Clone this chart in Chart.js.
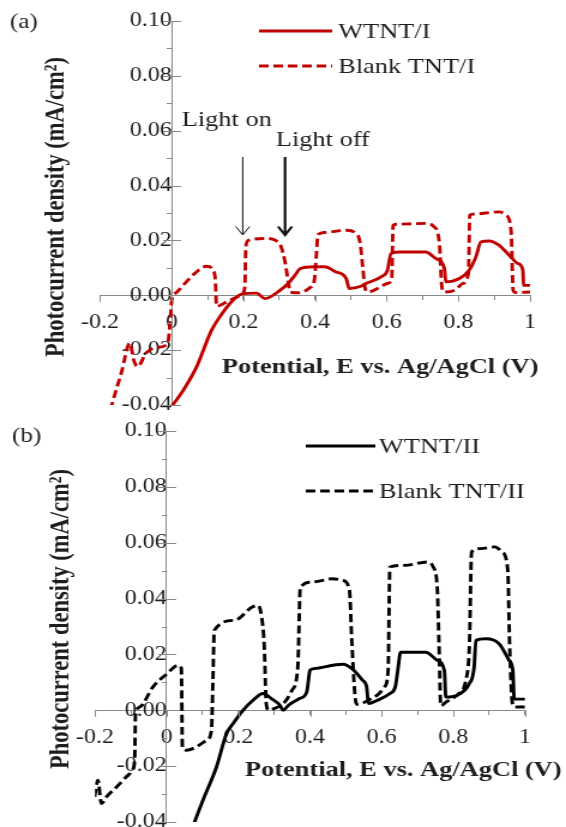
<!DOCTYPE html>
<html><head><meta charset="utf-8">
<script src="https://cdn.jsdelivr.net/npm/chart.js@4.4.1/dist/chart.umd.min.js"></script>
<style>
html,body{margin:0;padding:0;background:#fff;overflow:hidden;width:566px;height:827px}
.wrap{position:absolute;left:0;width:472px;overflow:hidden;transform-origin:0 0;transform:scaleX(1.19915)}
canvas{display:block}
</style></head><body>
<div class="wrap" style="top:0;height:413px"><canvas id="ca" width="472" height="440"></canvas></div>
<div class="wrap" style="top:413px;height:414px"><canvas id="cb" width="472" height="440"></canvas></div>
<script>
// ---------- data (potential V, current mA/cm2) ----------
const seriesNamesA = ['WTNT/I', 'Blank TNT/I'];
const seriesNamesB = ['WTNT/II', 'Blank TNT/II'];

const wtntI_E = [0, 0.032, 0.069, 0.111, 0.134, 0.171, 0.199, 0.237, 0.26, 0.302, 0.325, 0.345, 0.358, 0.396, 0.427, 0.457, 0.487, 0.495, 0.528, 0.542, 0.584, 0.602, 0.612, 0.635, 0.709, 0.737, 0.761, 0.765, 0.803, 0.83, 0.849, 0.863, 0.886, 0.914, 0.942, 0.966, 0.98, 0.982, 1.0];
const wtntI_J = [-0.0405, -0.0347, -0.0262, -0.0128, -0.0079, -0.0018, 0.0006, 0.0008, -0.0012, 0.0018, 0.0043, 0.0075, 0.0097, 0.0104, 0.0104, 0.0086, 0.0061, 0.0025, 0.0033, 0.0043, 0.0067, 0.0091, 0.0152, 0.0158, 0.0158, 0.0134, 0.0097, 0.0049, 0.0061, 0.0091, 0.014, 0.0195, 0.0198, 0.0182, 0.0146, 0.0116, 0.0091, 0.0036, 0.0036];

const blankI_E = [-0.18, -0.165, -0.14, -0.117, -0.105, -0.095, -0.071, -0.039, -0.011, -0.004, 0.0, 0.013, 0.041, 0.069, 0.097, 0.116, 0.122, 0.125, 0.162, 0.194, 0.204, 0.207, 0.214, 0.265, 0.29, 0.305, 0.317, 0.326, 0.331, 0.356, 0.386, 0.398, 0.404, 0.408, 0.427, 0.487, 0.513, 0.526, 0.533, 0.54, 0.548, 0.579, 0.602, 0.614, 0.618, 0.626, 0.709, 0.733, 0.747, 0.754, 0.76, 0.793, 0.812, 0.828, 0.832, 0.84, 0.914, 0.933, 0.947, 0.953, 0.96, 1.0];
const blankI_J = [-0.046, -0.039, -0.028, -0.0175, -0.024, -0.026, -0.021, -0.019, -0.0175, -0.009, -0.002, 0.001, 0.0049, 0.0085, 0.0106, 0.0091, 0.005, -0.0040, -0.0018, 0.0, 0.003, 0.0178, 0.020, 0.0207, 0.020, 0.0178, 0.0117, 0.0043, 0.0012, 0.0009, 0.0028, 0.0055, 0.0153, 0.0221, 0.0229, 0.0237, 0.0227, 0.019, 0.0104, 0.0025, 0.0012, 0.0028, 0.0043, 0.006, 0.0255, 0.0259, 0.0262, 0.0249, 0.0189, 0.003, 0.0012, 0.0021, 0.0043, 0.008, 0.0292, 0.0296, 0.0304, 0.0292, 0.0237, 0.0018, 0.001, 0.0012];

const wtntII_E = [0.07, 0.078, 0.101, 0.139, 0.167, 0.185, 0.213, 0.241, 0.269, 0.292, 0.316, 0.325, 0.34, 0.371, 0.391, 0.4, 0.411, 0.492, 0.517, 0.547, 0.558, 0.563, 0.588, 0.623, 0.638, 0.645, 0.653, 0.723, 0.756, 0.775, 0.779, 0.817, 0.844, 0.858, 0.863, 0.891, 0.928, 0.956, 0.966, 0.97, 1.0];
const wtntII_J = [-0.043, -0.04, -0.0323, -0.0203, -0.0084, -0.0048, 0.0, 0.0036, 0.006, 0.0042, 0.0018, 0.0, 0.0018, 0.0042, 0.0066, 0.0143, 0.0149, 0.0165, 0.0149, 0.0107, 0.0084, 0.0024, 0.0036, 0.006, 0.0084, 0.0143, 0.0208, 0.0208, 0.0178, 0.0142, 0.0047, 0.0058, 0.0094, 0.0154, 0.025, 0.0256, 0.0238, 0.0178, 0.0142, 0.004, 0.004];

const blankII_E = [-0.201, -0.192, -0.182, -0.168, -0.14, -0.113, -0.094, -0.089, -0.087, -0.075, -0.038, 0.001, 0.032, 0.041, 0.044, 0.055, 0.083, 0.111, 0.125, 0.129, 0.133, 0.189, 0.239, 0.255, 0.265, 0.272, 0.278, 0.285, 0.30, 0.33, 0.35, 0.366, 0.373, 0.411, 0.462, 0.492, 0.51, 0.517, 0.527, 0.532, 0.563, 0.593, 0.608, 0.618, 0.623, 0.664, 0.729, 0.744, 0.755, 0.76, 0.765, 0.78, 0.815, 0.835, 0.845, 0.851, 0.876, 0.916, 0.936, 0.952, 0.957, 0.965, 0.972, 1.0];
const blankII_J = [-0.031, -0.025, -0.0334, -0.031, -0.0275, -0.0239, -0.021, -0.0167, -0.0018, 0.0012, 0.0084, 0.0131, 0.0161, 0.015, -0.0131, -0.0143, -0.0131, -0.0108, -0.0072, 0.01, 0.0286, 0.0322, 0.037, 0.0376, 0.0334, 0.0239, 0.0024, 0.0, 0.0006, 0.003, 0.0072, 0.0155, 0.0441, 0.046, 0.0471, 0.0465, 0.043, 0.0239, 0.0036, 0.0021, 0.0036, 0.006, 0.0084, 0.0143, 0.0513, 0.0519, 0.0531, 0.0513, 0.0441, 0.0239, 0.0017, 0.003, 0.006, 0.0107, 0.0239, 0.0567, 0.0579, 0.0585, 0.0567, 0.0501, 0.0239, 0.0024, 0.0012, 0.0012];

const xTickLabels = ['-0.2', '0', '0.2', '0.4', '0.6', '0.8', '1'];
const yTickLabels = ['-0.04', '-0.02', '0.00', '0.02', '0.04', '0.06', '0.08', '0.10'];
const xMajorValues = [-0.2, 0, 0.2, 0.4, 0.6, 0.8, 1];

// ---------- styling ----------
const SERIF = '"Liberation Serif", "Times New Roman", serif';
const AXIS = '#8a8a8a';
const TXT = '#1e1e1e';
const RED = '#c00000';
const BLACK = '#000000';
Chart.defaults.font.family = SERIF;
Chart.defaults.color = TXT;

function pts(xs, ys) { return xs.map((x, i) => ({x: x, y: ys[i]})); }

function ds(label, xs, ys, color, dashed) {
  return {
    label: label, data: pts(xs, ys), borderColor: color, backgroundColor: color,
    borderWidth: 2.9, borderDash: dashed ? [8, 4] : [], pointRadius: 0,
    cubicInterpolationMode: 'monotone', fill: false
  };
}

function overlay(cfg) {
  return {
    id: 'overlay',
    afterDraw(chart) {
      const ctx = chart.ctx, xs = chart.scales.x, ys = chart.scales.y;
      const x0 = Math.round(xs.getPixelForValue(0)) + 0.5, y0 = ys.getPixelForValue(0);
      ctx.save();
      // y tick marks: major ones cross the axis, minor ones on the left only
      ctx.strokeStyle = AXIS; ctx.lineWidth = 1;
      ctx.beginPath();
      ys.ticks.forEach((t, i) => {
        const py = Math.round(ys.getPixelForValue(t.value)) + 0.5;
        if (i % 2 === 0) { ctx.moveTo(x0 - 7.5, py); ctx.lineTo(x0 + 7.5, py); }
        else { ctx.moveTo(x0 - 4.5, py); ctx.lineTo(x0, py); }
      });
      xMajorValues.forEach(v => {
        const px = Math.round(xs.getPixelForValue(v)) + 0.5;
        ctx.moveTo(px, y0); ctx.lineTo(px, y0 + 6.5);
      });
      ctx.stroke();
      // panel letter
      ctx.fillStyle = TXT;
      ctx.textBaseline = 'middle'; ctx.textAlign = 'left';
      ctx.font = '21px ' + SERIF;
      ctx.fillText(cfg.letter, cfg.letterX, cfg.letterY);
      // axis titles
      ctx.font = 'bold 22px ' + SERIF;
      ctx.fillText('Potential, E vs. Ag/AgCl (V)', cfg.xtX, cfg.xtY);
      ctx.save();
      ctx.translate(cfg.ytX, cfg.ytY); ctx.rotate(-Math.PI / 2);
      ctx.textAlign = 'center';
      ctx.font = 'bold 22.5px ' + SERIF;
      ctx.fillText('Photocurrent density (mA/cm\u00B2)', 0, 0);
      ctx.restore();
      // legend
      ctx.font = '22px ' + SERIF;
      chart.data.datasets.forEach((d, i) => {
        const ly = cfg.legY[i];
        ctx.strokeStyle = d.borderColor; ctx.lineWidth = d.borderWidth;
        ctx.setLineDash(d.borderDash);
        ctx.beginPath(); ctx.moveTo(cfg.legX0, ly); ctx.lineTo(cfg.legX1, ly); ctx.stroke();
        ctx.setLineDash([]);
        ctx.fillStyle = TXT;
        ctx.fillText(d.label, cfg.legTX, ly + 1);
      });
      // annotations
      if (cfg.arrows) {
        ctx.fillStyle = TXT;
        ctx.font = '22px ' + SERIF;
        cfg.arrows.forEach(a => {
          ctx.fillText(a.text, a.tx, a.ty);
          ctx.strokeStyle = '#111'; ctx.lineWidth = a.w;
          ctx.beginPath();
          ctx.moveTo(a.x, a.y1); ctx.lineTo(a.x, a.y2 - 1);
          ctx.moveTo(a.x - 5.8, a.y2 - 8.5); ctx.lineTo(a.x, a.y2); ctx.lineTo(a.x + 5.8, a.y2 - 8.5);
          ctx.stroke();
        });
      }
      ctx.restore();
    }
  };
}

function makeChart(id, datasets, target, cfg) {
  const pad = {left: target.left, top: target.top, right: 472 - target.right, bottom: target.h - target.bottom};
  const chart = new Chart(document.getElementById(id), {
    type: 'line',
    data: {datasets: datasets},
    options: {
      responsive: false, animation: false, devicePixelRatio: 1,
      layout: {padding: Object.assign({}, pad), autoPadding: false},
      plugins: {legend: {display: false}, tooltip: {enabled: false}},
      scales: {
        x: {
          type: 'linear', min: -0.2, max: 1, position: {y: 0},
          border: {display: true, color: AXIS, width: 1},
          grid: {drawOnChartArea: false, drawTicks: true, tickLength: 4, tickColor: AXIS},
          ticks: {
            stepSize: 0.1, autoSkip: false, maxRotation: 0, padding: 11,
            font: {size: 20, family: SERIF}, color: TXT,
            callback: (v, i) => (i % 2 === 0 ? xTickLabels[i / 2] : '')
          }
        },
        y: {
          type: 'linear', min: -0.04, max: 0.10, position: {x: 0},
          border: {display: true, color: AXIS, width: 1},
          grid: {drawOnChartArea: false, drawTicks: true, tickLength: 17.5, tickColor: 'rgba(0,0,0,0)'},
          ticks: {
            stepSize: 0.01, autoSkip: false, padding: 0,
            font: {size: 20, family: SERIF}, color: TXT,
            callback: (v, i) => (i % 2 === 0 ? yTickLabels[i / 2] : '')
          }
        }
      }
    },
    plugins: [overlay(cfg)]
  });
  // nudge layout padding so the plot area lands where the reference has it
  for (let k = 0; k < 4; k++) {
    const ca = chart.chartArea;
    pad.left += target.left - ca.left;
    pad.top += target.top - ca.top;
    pad.right += ca.right - target.right;
    pad.bottom += ca.bottom - target.bottom;
    chart.options.layout.padding = Object.assign({}, pad);
    chart.update();
  }
  return chart;
}

makeChart('ca', [
  ds(seriesNamesA[0], wtntI_E, wtntI_J, RED, false),
  ds(seriesNamesA[1], blankI_E, blankI_J, RED, true)
], {left: 83.4, right: 442.0, top: 21, bottom: 405, h: 440}, {
  letter: '(a)', letterX: 8.3, letterY: 22,
  xtX: 185, xtY: 367, ytX: 46.7, ytY: 207,
  legX0: 216, legX1: 277, legTX: 282, legY: [31, 66],
  arrows: [
    {text: 'Light on', tx: 151.5, ty: 120, x: 202.4, y1: 157, y2: 235, w: 1},
    {text: 'Light off', tx: 230, ty: 140, x: 237.7, y1: 157, y2: 235, w: 2.2}
  ]
});

makeChart('cb', [
  ds(seriesNamesB[0], wtntII_E, wtntII_J, BLACK, false),
  ds(seriesNamesB[1], blankII_E, blankII_J, BLACK, true)
], {left: 79.2, right: 437.8, top: 18, bottom: 409, h: 440}, {
  letter: '(b)', letterX: 10, letterY: 23,
  xtX: 204.3, xtY: 357, ytX: 50.9, ytY: 206,
  legX0: 255, legX1: 313, legTX: 316, legY: [33, 78]
});
</script></body></html>
